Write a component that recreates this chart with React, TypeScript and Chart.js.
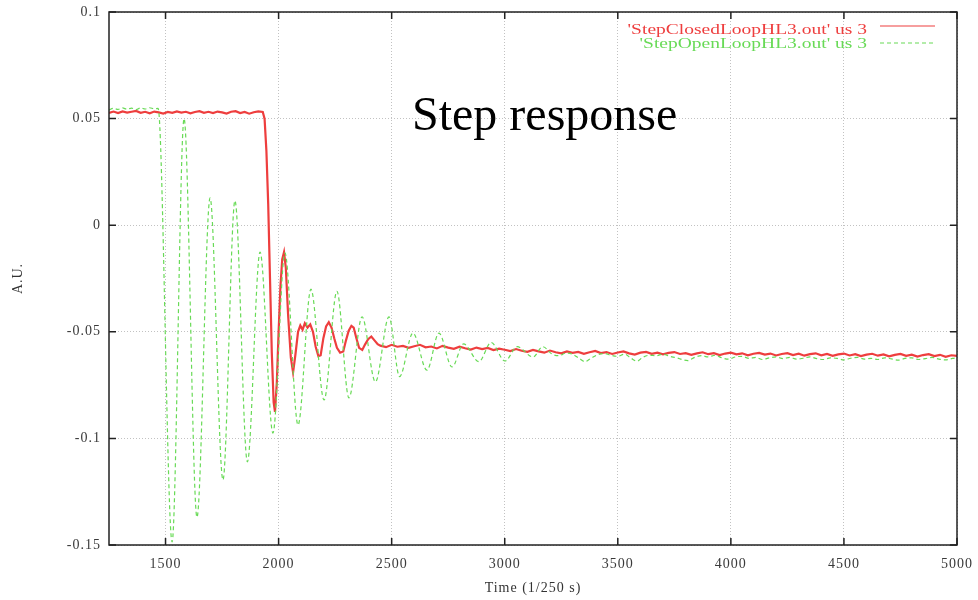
import React, { useEffect, useRef } from 'react';
import { Chart, registerables } from 'chart.js';

Chart.register(...registerables);

const chartTitle = 'Step response';
const xAxisTitle = 'Time (1/250 s)';
const yAxisTitle = 'A.U.';
const seriesNames = ["'StepClosedLoopHL3.out' us 3", "'StepOpenLoopHL3.out' us 3"];
const xTicks = [1500, 2000, 2500, 3000, 3500, 4000, 4500, 5000];
const yTicks = [0.1, 0.05, 0, -0.05, -0.1, -0.15];

// closed loop response: [time, value]
const closedLoop: [number, number][] = [
  [1250, 0.0527], [1270, 0.0533], [1290, 0.0526], [1310, 0.0534], [1330, 0.0528], [1350, 0.0532],
  [1370, 0.0536], [1390, 0.0527], [1410, 0.0532], [1430, 0.0525], [1450, 0.0533], [1470, 0.0529],
  [1490, 0.0524], [1510, 0.0531], [1530, 0.0527], [1550, 0.0534], [1570, 0.0528], [1590, 0.0532],
  [1610, 0.0525], [1630, 0.0531], [1650, 0.0535], [1670, 0.0527], [1690, 0.0532], [1710, 0.0526],
  [1730, 0.0533], [1750, 0.0529], [1770, 0.0524], [1790, 0.0532], [1810, 0.0535], [1830, 0.0526],
  [1850, 0.0531], [1870, 0.0523], [1890, 0.053], [1910, 0.0534], [1930, 0.0531],
  [1938, 0.05], [1946, 0.035], [1954, 0.01], [1962, -0.025], [1970, -0.06], [1978, -0.083],
  [1984, -0.0876], [1992, -0.074], [2000, -0.05], [2008, -0.029], [2016, -0.016], [2024, -0.0126],
  [2032, -0.02], [2042, -0.042], [2054, -0.062], [2064, -0.069], [2074, -0.061], [2086, -0.05],
  [2096, -0.047], [2106, -0.049], [2116, -0.046], [2128, -0.048], [2140, -0.0465], [2152, -0.05],
  [2164, -0.057], [2176, -0.0615], [2186, -0.061], [2198, -0.053], [2210, -0.0475], [2222, -0.0455],
  [2234, -0.048], [2246, -0.053], [2258, -0.0575], [2272, -0.0598], [2286, -0.0592], [2298, -0.054],
  [2310, -0.0495], [2322, -0.0472], [2332, -0.048], [2344, -0.053], [2356, -0.0575], [2370, -0.0585],
  [2382, -0.056], [2396, -0.0535], [2410, -0.0522], [2424, -0.054], [2438, -0.0558],
  [2450, -0.0565], [2475, -0.0572], [2500, -0.0561], [2525, -0.057], [2550, -0.0566], [2575, -0.0575],
  [2600, -0.0568], [2625, -0.0561], [2650, -0.0573], [2675, -0.0569], [2700, -0.0578], [2725, -0.0566],
  [2750, -0.0574], [2775, -0.058], [2800, -0.057], [2825, -0.0577], [2850, -0.0583], [2875, -0.0574],
  [2900, -0.0581], [2925, -0.0576], [2950, -0.0586], [2975, -0.0579], [3000, -0.0584], [3025, -0.059],
  [3050, -0.0581], [3075, -0.0589], [3100, -0.0594], [3125, -0.0585], [3150, -0.0592], [3175, -0.0598],
  [3200, -0.0588], [3225, -0.0596], [3250, -0.0601], [3275, -0.0592], [3300, -0.0599], [3325, -0.0594],
  [3350, -0.0603], [3375, -0.0596], [3400, -0.059], [3425, -0.06], [3450, -0.0595], [3475, -0.0604],
  [3500, -0.0597], [3525, -0.0592], [3550, -0.0601], [3575, -0.0607], [3600, -0.0598], [3625, -0.0594],
  [3650, -0.0603], [3675, -0.0598], [3700, -0.0606], [3725, -0.0599], [3750, -0.0595], [3775, -0.0604],
  [3800, -0.06], [3825, -0.0608], [3850, -0.0601], [3875, -0.0596], [3900, -0.0605], [3925, -0.06],
  [3950, -0.0609], [3975, -0.0602], [4000, -0.0598], [4025, -0.0606], [4050, -0.0601], [4075, -0.061],
  [4100, -0.0603], [4125, -0.0599], [4150, -0.0607], [4175, -0.0602], [4200, -0.0611], [4225, -0.0604],
  [4250, -0.06], [4275, -0.0609], [4300, -0.0603], [4325, -0.0612], [4350, -0.0605], [4375, -0.0601],
  [4400, -0.061], [4425, -0.0604], [4450, -0.0613], [4475, -0.0606], [4500, -0.0602], [4525, -0.0611],
  [4550, -0.0605], [4575, -0.0614], [4600, -0.0607], [4625, -0.0603], [4650, -0.0612], [4675, -0.0606],
  [4700, -0.0615], [4725, -0.0608], [4750, -0.0604], [4775, -0.0613], [4800, -0.0607], [4825, -0.0616],
  [4850, -0.0609], [4875, -0.0605], [4900, -0.0614], [4925, -0.0608], [4950, -0.0617], [4975, -0.061],
  [5000, -0.0613],
];

// open loop response: [time, value]
const openLoop: [number, number][] = [
  [1250, 0.0541], [1270, 0.0548], [1290, 0.0543], [1310, 0.055], [1330, 0.0544], [1350, 0.0549],
  [1370, 0.0542], [1390, 0.055], [1410, 0.0545], [1430, 0.0551], [1450, 0.0546], [1467, 0.0548],
  [1529, -0.1486], [1582, 0.05], [1639, -0.137], [1697, 0.0128], [1754, -0.1195], [1807, 0.0115],
  [1862, -0.111], [1918, -0.0126], [1975, -0.0975], [2028, -0.013], [2086, -0.0937], [2143, -0.03],
  [2201, -0.082], [2258, -0.031], [2311, -0.081], [2369, -0.043], [2428, -0.0735], [2488, -0.043],
  [2535, -0.071], [2594, -0.0506], [2656, -0.068], [2709, -0.0506], [2767, -0.0665], [2818, -0.0557],
  [2886, -0.064], [2940, -0.055], [3001, -0.0637], [3055, -0.057], [3125, -0.0618], [3168, -0.057],
  [3210, -0.0605], [3240, -0.0612], [3270, -0.06], [3300, -0.0605], [3330, -0.0625], [3355, -0.064],
  [3380, -0.0625], [3410, -0.0608], [3440, -0.0602], [3470, -0.061], [3500, -0.0615], [3530, -0.0605],
  [3560, -0.0625], [3585, -0.0638], [3610, -0.062], [3640, -0.061], [3670, -0.0612], [3700, -0.0605],
  [3730, -0.0615], [3760, -0.0622], [3790, -0.0632], [3810, -0.0635], [3840, -0.062], [3870, -0.0612],
  [3900, -0.0618], [3930, -0.061], [3960, -0.0622], [3990, -0.0628], [4020, -0.0618], [4050, -0.0615],
  [4080, -0.0625], [4110, -0.062], [4140, -0.063], [4170, -0.0622], [4200, -0.0618], [4230, -0.0626],
  [4260, -0.062], [4290, -0.0628], [4320, -0.0624], [4350, -0.0618], [4380, -0.0626], [4410, -0.063],
  [4440, -0.0622], [4470, -0.0625], [4500, -0.0632], [4530, -0.0624], [4560, -0.062], [4590, -0.0628],
  [4620, -0.0625], [4650, -0.063], [4680, -0.0622], [4710, -0.0627], [4740, -0.0633], [4770, -0.0625],
  [4800, -0.0622], [4830, -0.063], [4860, -0.0626], [4890, -0.062], [4920, -0.0628], [4950, -0.0632],
  [4980, -0.0625], [5000, -0.0622],
];

const RED = 'rgb(238,62,62)';
const GREEN = 'rgb(104,218,86)';
const SERIF = '"Liberation Serif", "Times New Roman", serif';

const framePlugin = {
  id: 'gnuplotFrame',
  beforeDraw(chart: any) {
    (chart.ctx as any).letterSpacing = '1px';
  },
  afterDatasetsDraw(chart: any) {
    const { ctx, chartArea: a, scales } = chart;
    ctx.save();
    (ctx as any).letterSpacing = '0px';
    ctx.setLineDash([]);
    ctx.strokeStyle = '#222';
    ctx.lineWidth = 1.5;
    ctx.strokeRect(a.left, a.top, a.right - a.left, a.bottom - a.top);
    const T = 7;
    ctx.beginPath();
    scales.x.ticks.forEach((t: any) => {
      const px = scales.x.getPixelForValue(t.value);
      ctx.moveTo(px, a.bottom);
      ctx.lineTo(px, a.bottom - T);
      ctx.moveTo(px, a.top);
      ctx.lineTo(px, a.top + T);
    });
    scales.y.ticks.forEach((t: any) => {
      const py = scales.y.getPixelForValue(t.value);
      ctx.moveTo(a.left, py);
      ctx.lineTo(a.left + T, py);
      ctx.moveTo(a.right, py);
      ctx.lineTo(a.right - T, py);
    });
    ctx.stroke();

    // title label inside plot
    ctx.font = `48px ${SERIF}`;
    ctx.fillStyle = '#000';
    ctx.textAlign = 'left';
    ctx.textBaseline = 'alphabetic';
    ctx.fillText(chartTitle, a.left + 303, a.top + 118);

    // key
    const rows = [
      { text: seriesNames[0], color: RED, textY: a.top + 21.5, lineY: a.top + 14, dash: [] as number[] },
      { text: seriesNames[1], color: GREEN, textY: a.top + 35.5, lineY: a.top + 31, dash: [4, 3] },
    ];
    rows.forEach((r) => {
      ctx.save();
      ctx.font = `15px ${SERIF}`;
      ctx.fillStyle = r.color;
      ctx.textAlign = 'right';
      ctx.textBaseline = 'alphabetic';
      ctx.translate(a.right - 90, r.textY);
      ctx.scale(1.3, 1);
      ctx.fillText(r.text, 0, 0);
      ctx.restore();
      ctx.save();
      ctx.strokeStyle = r.color;
      ctx.lineWidth = 1.2;
      ctx.setLineDash(r.dash);
      ctx.beginPath();
      ctx.moveTo(a.right - 77, r.lineY);
      ctx.lineTo(a.right - 22, r.lineY);
      ctx.stroke();
      ctx.restore();
    });
    ctx.restore();
  },
};

export default function App() {
  const canvasRef = useRef<HTMLCanvasElement | null>(null);

  useEffect(() => {
    if (!canvasRef.current) return;
    const tickFont = { family: SERIF, size: 14 };
    const chart = new Chart(canvasRef.current, {
      type: 'line',
      data: {
        datasets: [
          {
            label: seriesNames[0],
            data: closedLoop.map(([x, y]) => ({ x, y })),
            borderColor: RED,
            borderWidth: 2.2,
            pointRadius: 0,
            tension: 0,
            order: 1,
          },
          {
            label: seriesNames[1],
            data: openLoop.map(([x, y]) => ({ x, y })),
            borderColor: GREEN,
            borderWidth: 1.2,
            borderDash: [4, 3],
            pointRadius: 0,
            cubicInterpolationMode: 'monotone',
            order: 0,
          },
        ],
      },
      options: {
        responsive: false,
        animation: false,
        devicePixelRatio: 1,
        layout: { padding: { left: 0, top: 12, right: 21, bottom: 0 } },
        plugins: { legend: { display: false }, tooltip: { enabled: false }, title: { display: false } },
        scales: {
          x: {
            type: 'linear',
            min: 1250,
            max: 5000,
            afterBuildTicks: (s: any) => { s.ticks = xTicks.map((value) => ({ value })); },
            afterFit: (s: any) => { s.height = 55; s.paddingLeft = 0; s.paddingRight = 0; },
            grid: { color: '#c2c2c2', lineWidth: 1, drawTicks: false },
            border: { display: false, dash: [1, 2] },
            ticks: {
              font: tickFont,
              color: '#3a3a3a',
              padding: 11,
              maxRotation: 0,
              autoSkip: false,
              callback: (v: any) => String(v),
            },
            title: {
              display: true,
              text: xAxisTitle,
              font: tickFont,
              color: '#333',
              padding: { top: 0, bottom: 3 },
            },
          },
          y: {
            type: 'linear',
            min: -0.15,
            max: 0.1,
            afterBuildTicks: (s: any) => { s.ticks = yTicks.map((value) => ({ value })); },
            afterFit: (s: any) => { s.width = 109; s.paddingTop = 0; s.paddingBottom = 0; },
            grid: { color: '#c2c2c2', lineWidth: 1, drawTicks: false },
            border: { display: false, dash: [1, 2] },
            ticks: {
              font: tickFont,
              color: '#3a3a3a',
              padding: 8,
              autoSkip: false,
              callback: (v: any) => String(Math.round(Number(v) * 1000) / 1000),
            },
            title: {
              display: true,
              text: yAxisTitle,
              font: tickFont,
              color: '#333',
              padding: { top: 10, bottom: 0 },
            },
          },
        },
      } as any,
      plugins: [framePlugin],
    });
    return () => chart.destroy();
  }, []);

  return (
    <div style={{ position: 'fixed', left: 0, top: 0, width: 978, height: 600, background: '#fff' }}>
      <canvas ref={canvasRef} width={978} height={600} style={{ display: 'block' }} />
    </div>
  );
}
